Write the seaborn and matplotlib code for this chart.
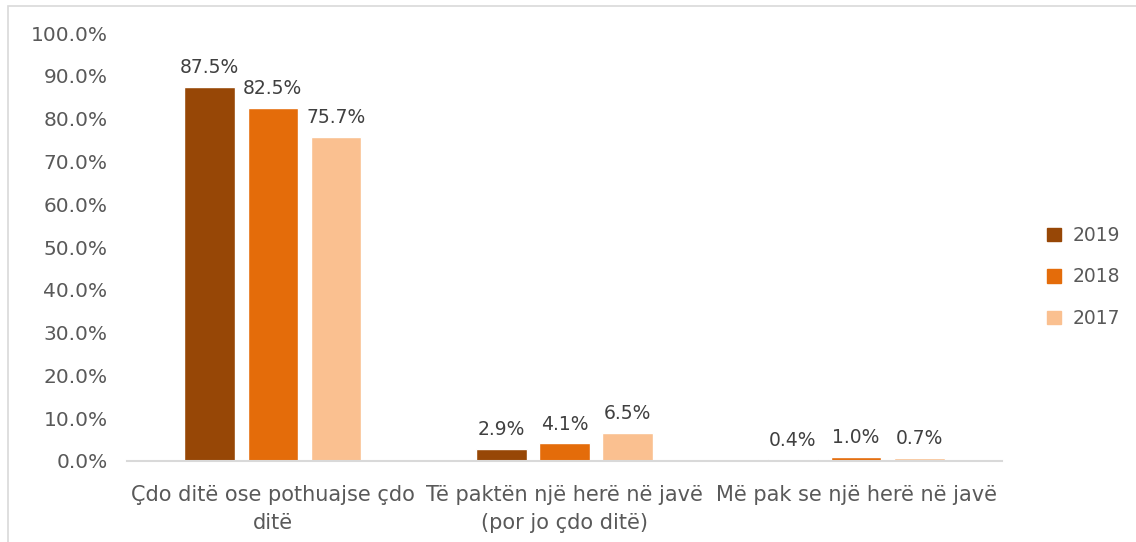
import matplotlib

matplotlib.use("Agg")
import matplotlib.pyplot as plt
import matplotlib.patches as mpatches
import pandas as pd
import seaborn as sns

# --- Data ---
categories = [
    "Çdo ditë ose pothuajse çdo\nditë",
    "Të paktën një herë në javë\n(por jo çdo ditë)",
    "Më pak se një herë në javë",
]
years = ["2019", "2018", "2017"]
values_2019 = [87.5, 2.9, 0.4]
values_2018 = [82.5, 4.1, 1.0]
values_2017 = [75.7, 6.5, 0.7]

year_colors = {"2019": "#974706", "2018": "#E46C0A", "2017": "#FAC090"}
TEXT_COLOR = "#595959"
LABEL_COLOR = "#404040"

rows = []
for year, vals in zip(years, [values_2019, values_2018, values_2017]):
    for cat, v in zip(categories, vals):
        rows.append({"Kategoria": cat, "Viti": year, "Vlera": v})
df = pd.DataFrame(rows)

sns.set_style("white")
plt.rcParams["font.family"] = ["DejaVu Sans"]

fig = plt.figure(figsize=(11.36, 5.42), dpi=100)
ax = fig.add_axes([127 / 1136, 1 - 461 / 542, 875 / 1136, 428 / 542])

sns.barplot(
    data=df,
    x="Kategoria",
    y="Vlera",
    hue="Viti",
    hue_order=years,
    order=categories,
    palette=year_colors,
    saturation=1,
    width=0.65,
    gap=0.2,
    ax=ax,
    legend=False,
)

# value labels above bars
for container in ax.containers:
    ax.bar_label(
        container,
        labels=[f"{v:.1f}%" for v in container.datavalues],
        padding=7,
        fontsize=13.5,
        color=LABEL_COLOR,
    )

ax.set_ylim(0, 100)
ax.set_yticks(range(0, 101, 10))
ax.set_yticklabels([f"{t:.1f}%" for t in range(0, 101, 10)])
ax.tick_params(axis="y", labelsize=14.5, labelcolor=TEXT_COLOR, length=0, pad=14)
ax.tick_params(axis="x", labelsize=15, labelcolor=TEXT_COLOR, length=0, pad=17)
for lbl in ax.get_xticklabels():
    lbl.set_linespacing(1.55)
ax.set_xlabel("")
ax.set_ylabel("")

for side in ["top", "right", "left"]:
    ax.spines[side].set_visible(False)
ax.spines["bottom"].set_color("#D9D9D9")
ax.spines["bottom"].set_linewidth(1.5)

# legend
handles = [mpatches.Patch(color=year_colors[y], label=y) for y in years]
fig.legend(
    handles=handles,
    loc="center left",
    bbox_to_anchor=(1030 / 1136, 1 - 277 / 542),
    frameon=False,
    fontsize=13.5,
    labelcolor=TEXT_COLOR,
    handlelength=0.75,
    handleheight=0.75,
    handletextpad=0.6,
    labelspacing=1.2,
)

# chart border
border = mpatches.Rectangle(
    (8 / 1136, -0.02),
    1.05,
    1 - 6 / 542 + 0.02,
    transform=fig.transFigure,
    fill=False,
    edgecolor="#D9D9D9",
    linewidth=1.2,
)
fig.patches.append(border)

fig.savefig("out.png", dpi=100)
